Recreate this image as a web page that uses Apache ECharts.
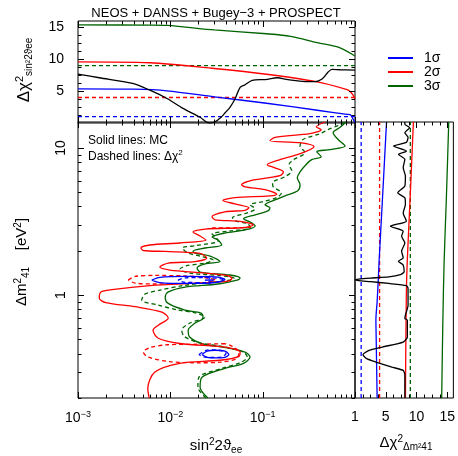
<!DOCTYPE html>
<html><head><meta charset="utf-8">
<script src="https://cdn.jsdelivr.net/npm/echarts@6/dist/echarts.min.js"></script>
<style>html,body{margin:0;padding:0;background:#fff}#c{width:458px;height:456px}</style>
</head><body><div id="c"></div><script>
// ---------- tick values ----------
const logMajorX = [0.001, 0.01, 0.1, 1];
const logMinorX = [0.002,0.003,0.004,0.005,0.006,0.007,0.008,0.009,0.02,0.03,0.04,0.05,0.06,0.07,0.08,0.09,0.2,0.3,0.4,0.5,0.6,0.7,0.8,0.9];
const logMajorY = [1, 10];
const logMinorY = [0.2,0.3,0.4,0.5,0.6,0.7,0.8,0.9,2,3,4,5,6,7,8,9];
const chiMajor = [5, 10, 15];
const chiMinor = [1.25,2.5,3.75,6.25,7.5,8.75,11.25,12.5,13.75];
const chiLevels = [1, 4, 9];

// ---------- top panel: Δχ² vs sin²2θ ----------
const topBlueMC  = [[0.001,5.35],[0.004,5.3],[0.0092,5.05],[0.03,4.1],[0.11,3.1],[0.39,2.0],[0.82,1.35],[0.885,1.3],[0.93,0.9],[0.97,0.4],[1,0.1]];
const topRedMC   = [[0.001,9.6],[0.006,9.45],[0.03,8.55],[0.11,7.65],[0.39,6.45],[0.82,5.25],[0.885,4.95],[0.95,4.4],[1,3.8]];
const topGreenMC = [[0.001,15.4],[0.006,15.35],[0.0092,15.3],[0.03,14.6],[0.11,14.0],[0.2,13.6],[0.39,12.6],[0.69,11.8],[1,10.5]];
const topChi2    = [[0.001,7.65],[0.0017,7.1],[0.0039,6.2],[0.006,5.15],[0.0092,3.85],[0.0137,2.3],[0.021,0.9],[0.0265,0.0],[0.0305,0.2],[0.036,1.0],[0.0392,1.6],[0.0444,2.5],[0.0503,3.8],[0.057,5.6],[0.0645,6.0],[0.077,6.7],[0.094,6.8],[0.106,6.8],[0.143,7.1],[0.188,6.8],[0.288,6.5],[0.37,6.5],[0.44,6.9],[0.512,8.0],[0.565,8.4],[0.69,8.35],[1,8.3]];

// ---------- right panel: Δχ² vs Δm² ----------
const rightBlueMC  = [[5.13,15],[4.46,4.44],[3.92,1.7],[3.81,1.33],[3.6,0.9],[3.4,0.68],[3.45,0.5],[3.6,0.2]];
const rightRedMC   = [[9.5,15],[8.95,4.4],[8.5,1.7],[8.35,1.0],[8.2,0.2]];
const rightGreenMC = [[15.25,15],[14.85,4.4],[14.5,1.7],[14.3,0.7],[14.1,0.2]];
const rightChi2 = [[8.11,0.2],[8.11,0.285],[7.84,0.308],[6.0,0.324],[3.4,0.351],[1.9,0.37],[1.3,0.394],[2.2,0.42],[4.44,0.444],[7.84,0.48],[8.52,0.52],[8.52,0.676],[8.11,0.694],[8.2,0.731],[8.63,0.855],[8.63,1.11],[8.36,1.16],[5.49,1.2],[2.5,1.235],[0.6,1.255],[0.05,1.27],[0.6,1.285],[2.5,1.305],[5.49,1.33],[7.4,1.38],[8.0,1.44],[7.84,1.6],[7.06,1.7],[7.84,1.79],[7.58,1.99],[8.11,2.26],[7.58,2.51],[7.84,2.72],[5.76,2.94],[8.36,3.18],[7.84,3.62],[8.2,4.13],[8.11,4.58],[6.95,4.96],[8.11,5.51],[8.2,6.44],[7.84,7.34],[8.11,8.36],[7.06,9.04],[8.36,9.5],[6.27,10.3],[8.36,10.9],[8.63,11.8],[8.11,12.7],[8.89,13.7],[8.11,14.5],[8.11,15]];

// ---------- main panel contours: [sin²2θ, Δm²] ----------
const redMC = [[0.0059,0.2],[0.0057,0.232],[0.0068,0.30],[0.0127,0.344],[0.0345,0.361],[0.0555,0.384],[0.057,0.41],[0.042,0.44],[0.0127,0.469],[0.0074,0.509],[0.0065,0.578],[0.0074,0.625],[0.0095,0.70],[0.0081,0.767],[0.00415,0.834],[0.0020,0.889],[0.0017,0.954],[0.00177,1.05],[0.00233,1.09],[0.0060,1.16],[0.021,1.21],[0.042,1.245],[0.0465,1.295],[0.042,1.357],[0.021,1.42],[0.0099,1.48],[0.0077,1.55],[0.0095,1.65],[0.0185,1.69],[0.0248,1.79],[0.021,1.92],[0.0088,1.98],[0.0051,2.01],[0.0048,2.09],[0.006,2.19],[0.0127,2.26],[0.0243,2.37],[0.021,2.52],[0.0176,2.68],[0.0238,2.81],[0.0645,2.88],[0.079,3.0],[0.057,3.17],[0.0305,3.25],[0.0283,3.41],[0.039,3.68],[0.0645,3.77],[0.071,3.92],[0.050,4.17],[0.037,4.40],[0.050,4.6],[0.12,4.73],[0.142,4.85],[0.106,5.2],[0.0645,5.44],[0.059,5.62],[0.073,5.98],[0.154,6.48],[0.168,6.87],[0.136,7.32],[0.112,7.69],[0.154,8.32],[0.254,9.14],[0.36,10.2],[0.254,10.85],[0.12,11.2],[0.136,11.8],[0.326,12.5],[0.43,13.3],[0.38,13.9],[0.474,15]];
const greenMC = [[0.0255,0.2],[0.021,0.237],[0.022,0.277],[0.039,0.318],[0.062,0.344],[0.073,0.38],[0.0645,0.41],[0.042,0.437],[0.022,0.469],[0.0163,0.517],[0.0156,0.578],[0.0185,0.646],[0.0226,0.697],[0.0215,0.755],[0.0144,0.791],[0.0094,0.882],[0.0088,0.969],[0.0094,1.048],[0.0144,1.134],[0.033,1.19],[0.054,1.27],[0.057,1.305],[0.044,1.37],[0.021,1.435],[0.0195,1.53],[0.0238,1.63],[0.0345,1.69],[0.027,1.84],[0.0185,1.93],[0.0176,1.99],[0.0238,2.09],[0.036,2.19],[0.033,2.37],[0.0283,2.48],[0.039,2.64],[0.0645,2.77],[0.083,2.95],[0.073,3.14],[0.062,3.3],[0.083,3.51],[0.114,3.74],[0.12,3.92],[0.106,4.11],[0.136,4.44],[0.175,4.73],[0.24,5.12],[0.254,5.62],[0.237,6.28],[0.254,6.87],[0.294,7.69],[0.34,8.32],[0.43,8.7],[0.386,9.43],[0.537,9.73],[0.78,10.3],[0.656,11.4],[0.58,12.7],[0.69,13.8],[0.80,15]];
const greenChi2 = [[0.0243,0.2],[0.0199,0.237],[0.0204,0.277],[0.0363,0.318],[0.0586,0.35],[0.068,0.38],[0.062,0.41],[0.040,0.443],[0.0199,0.477],[0.0141,0.525],[0.0133,0.578],[0.0163,0.646],[0.0238,0.708],[0.019,0.755],[0.0121,0.791],[0.0074,0.855],[0.0049,0.925],[0.0053,1.016],[0.0077,1.08],[0.0137,1.16],[0.0238,1.21],[0.0465,1.27],[0.049,1.305],[0.0345,1.357],[0.0163,1.41],[0.0127,1.5],[0.0148,1.58],[0.0238,1.65],[0.029,1.73],[0.021,1.84],[0.0156,1.93],[0.0135,2.09],[0.019,2.17],[0.033,2.33],[0.031,2.48],[0.0283,2.6],[0.0444,2.73],[0.073,2.86],[0.0695,3.05],[0.0503,3.19],[0.047,3.35],[0.0695,3.63],[0.0827,3.86],[0.073,4.11],[0.0985,4.3],[0.142,4.6],[0.16,4.95],[0.13,5.44],[0.128,5.8],[0.175,6.38],[0.207,6.99],[0.193,7.69],[0.215,8.32],[0.288,9.3],[0.254,10.3],[0.273,11.4],[0.419,12.5],[0.51,13.3],[0.69,14.4],[0.78,15]];
const redChi2Upper = [[0.0035,1.265],[0.00415,1.34],[0.0068,1.36],[0.0144,1.35],[0.0238,1.315],[0.0305,1.265],[0.0238,1.217],[0.0144,1.2],[0.0068,1.19],[0.00415,1.207],[0.0035,1.265]];
const redChi2Lower = [[0.0392,0.468],[0.021,0.464],[0.0094,0.46],[0.006,0.44],[0.0051,0.41],[0.0057,0.38],[0.0099,0.353],[0.021,0.347],[0.0345,0.35],[0.052,0.37],[0.0555,0.41],[0.0465,0.45],[0.0392,0.468]];
const redChi2Seg = [[0.0283,2.86],[0.05,2.86],[0.075,2.9]];
const blueMCUpper = [[0.0063,1.265],[0.0077,1.32],[0.015,1.34],[0.0305,1.33],[0.039,1.275],[0.0305,1.217],[0.015,1.2],[0.0077,1.217],[0.0063,1.265]];
const blueChi2Upper = [[0.0121,1.265],[0.0144,1.31],[0.0238,1.315],[0.0345,1.295],[0.0373,1.265],[0.0345,1.236],[0.0238,1.217],[0.0144,1.22],[0.0121,1.265]];
const blueMCLower = [[0.022,0.395],[0.025,0.416],[0.0305,0.422],[0.039,0.416],[0.043,0.395],[0.039,0.378],[0.0305,0.375],[0.025,0.378],[0.022,0.395]];
const blueChi2Lower = [[0.0204,0.395],[0.024,0.42],[0.029,0.425],[0.036,0.418],[0.040,0.40],[0.036,0.38],[0.029,0.377],[0.023,0.38],[0.0204,0.395]];
const bestFit = [[0.0265,1.265]];

const BLUE='#0000ff', RED='#ff0000', GREEN='#006400', BLACK='#000000';
const FONT='"Liberation Sans", Arial, Helvetica, sans-serif';

function ln(name, data, color, xi, yi, dashed, smooth){
  return {type:'line', name, data, xAxisIndex:xi, yAxisIndex:yi, showSymbol:false, symbol:'none',
    smooth: smooth===undefined?0.3:smooth, color, silent:true, clip:true,
    lineStyle:{color, width:1.3, type: dashed?[4,3]:'solid'}};
}
function hline(name, y, color, xi, yi){
  return ln(name, [[0.001,y],[1,y]], color, xi, yi, true, false);
}
function vline(name, x, color, xi, yi){
  return ln(name, [[x,0.2],[x,15]], color, xi, yi, true, false);
}
function ticks(xi, yi, xMaj, xMin, yMaj, yMin, refX, refY, sides){
  const data=[];
  xMaj.forEach(v=>data.push([v,refY,1,0])); xMin.forEach(v=>data.push([v,refY,0,0]));
  yMaj.forEach(v=>data.push([refX,v,1,1])); yMin.forEach(v=>data.push([refX,v,0,1]));
  return {type:'custom', xAxisIndex:xi, yAxisIndex:yi, silent:true, z:10, data,
    dimensions:['x','y','m','d'], encode:{x:0,y:1},
    renderItem(params, api){
      const cs=params.coordSys; const major=api.value(2), d=api.value(3);
      const len=major?6:3.5; const p=api.coord([api.value(0),api.value(1)]);
      const ch=[]; const st={stroke:'#000',lineWidth:1};
      if(d===0){ const x=Math.round(p[0])+0.5;
        if(sides.b) ch.push({type:'line',shape:{x1:x,y1:cs.y+cs.height,x2:x,y2:cs.y+cs.height-len},style:st});
        if(sides.t) ch.push({type:'line',shape:{x1:x,y1:cs.y,x2:x,y2:cs.y+len},style:st});
      } else { const y=Math.round(p[1])+0.5;
        if(sides.l) ch.push({type:'line',shape:{x1:cs.x,y1:y,x2:cs.x+len,y2:y},style:st});
        if(sides.r) ch.push({type:'line',shape:{x1:cs.x+cs.width,y1:y,x2:cs.x+cs.width-len,y2:y},style:st});
      }
      return {type:'group',children:ch};
    }};
}
const hid={show:false};
const supFmt = {s:{fontSize:9, verticalAlign:'top', fontFamily:FONT, padding:[0,0,7,0]}};
function xLab(v){ if(Math.abs(v-1)<1e-9) return '1'; const e=Math.round(Math.log10(v)); if(Math.abs(Math.pow(10,e)-v)/v<1e-6) return '10{s|−'+(-e)+'}'; return ''; }
const richSS = {s:{fontSize:10, verticalAlign:'top', padding:[0,0,8,0], fontFamily:FONT}, b:{fontSize:10, verticalAlign:'bottom', padding:[7,0,0,0], fontFamily:FONT}};

const option = {
  animation:false, backgroundColor:'#fff',
  textStyle:{fontFamily:FONT},
  grid:[
    {left:78, top:21, width:277, height:102, show:true, borderColor:'#000', borderWidth:1},
    {left:78, top:122, width:277, height:276, show:true, borderColor:'#000', borderWidth:1},
    {left:355, top:122, width:102, height:276, show:true, borderColor:'#000', borderWidth:1}
  ],
  xAxis:[
    {type:'log', logBase:10, min:0.001, max:1, gridIndex:0, axisLine:hid, axisTick:hid, axisLabel:hid, splitLine:hid},
    {type:'log', logBase:10, min:0.001, max:1, gridIndex:1, axisLine:hid, axisTick:hid, splitLine:hid,
      axisLabel:{show:true, margin:12, fontSize:14, color:'#000', fontFamily:FONT, formatter:xLab, rich:supFmt, showMinLabel:true, showMaxLabel:true}},
    {type:'value', min:0, max:16, interval:5, gridIndex:2, axisLine:hid, axisTick:hid, splitLine:hid,
      axisLabel:{show:true, margin:12, fontSize:14, color:'#000', fontFamily:FONT, formatter:v=>(v===5||v===10||v===15)?String(v):''}}
  ],
  yAxis:[
    {type:'value', min:0, max:16, interval:5, gridIndex:0, axisLine:hid, axisTick:hid, splitLine:hid,
      axisLabel:{show:true, margin:14, fontSize:14, color:'#000', fontFamily:FONT, formatter:v=>(v===5||v===10||v===15)?String(v):''}},
    {type:'log', logBase:10, min:0.2, max:15, gridIndex:1, axisLine:hid, axisTick:hid, splitLine:hid,
      axisLabel:{show:true, rotate:90, margin:10, fontSize:14, color:'#000', fontFamily:FONT,
        formatter:v=>Math.abs(v-1)<1e-9?'1':(Math.abs(v-10)<1e-9?'10':'')}},
    {type:'log', logBase:10, min:0.2, max:15, gridIndex:2, axisLine:hid, axisTick:hid, axisLabel:hid, splitLine:hid}
  ],
  legend:{orient:'vertical', left:383, top:46, itemWidth:25, itemHeight:2, itemGap:0, icon:'rect',
    data:['1σ','2σ','3σ'], textStyle:{fontSize:14, color:'#000', fontFamily:FONT, padding:[0,0,0,6]}},
  series:[
    // top panel
    hline('1σ',chiLevels[0],BLUE,0,0), hline('2σ',chiLevels[1],RED,0,0), hline('3σ',chiLevels[2],GREEN,0,0),
    ln('3σ',topGreenMC,GREEN,0,0,false), ln('2σ',topRedMC,RED,0,0,false), ln('1σ',topBlueMC,BLUE,0,0,false),
    ln('Δχ²',topChi2,BLACK,0,0,false),
    // right panel
    vline('1σ',chiLevels[0],BLUE,2,2), vline('2σ',chiLevels[1],RED,2,2), vline('3σ',chiLevels[2],GREEN,2,2),
    ln('3σ',rightGreenMC,GREEN,2,2,false), ln('2σ',rightRedMC,RED,2,2,false), ln('1σ',rightBlueMC,BLUE,2,2,false),
    ln('Δχ² profile',rightChi2,BLACK,2,2,false,0.2),
    // main panel
    ln('3σ',greenChi2,GREEN,1,1,true), ln('3σ',greenMC,GREEN,1,1,false),
    ln('2σ',redChi2Upper,RED,1,1,true), ln('2σ',redChi2Lower,RED,1,1,true), ln('2σ',redChi2Seg,RED,1,1,true),
    ln('2σ',redMC,RED,1,1,false),
    ln('1σ',blueChi2Upper,BLUE,1,1,true), ln('1σ',blueMCUpper,BLUE,1,1,false),
    ln('1σ',blueChi2Lower,BLUE,1,1,true), ln('1σ',blueMCLower,BLUE,1,1,false),
    {type:'scatter', name:'best fit', data:bestFit, xAxisIndex:1, yAxisIndex:1, symbol:'path://M4,0h2v10h-2zM0,4h10v2h-10z', symbolSize:9, itemStyle:{color:BLUE}, silent:true, z:5},
    // ticks
    ticks(0,0,logMajorX,logMinorX,chiMajor,chiMinor,0.01,5,{b:true,t:true,l:true,r:true}),
    ticks(1,1,logMajorX,logMinorX,logMajorY,logMinorY,0.01,1,{b:true,t:true,l:true,r:true}),
    ticks(2,2,chiMajor,chiMinor,[],[],5,1,{b:true,t:true})
  ],
  graphic:[
    {type:'text', x:216, y:13, style:{text:'NEOS + DANSS + Bugey−3 + PROSPECT', font:'13px '+FONT, fill:'#000', textAlign:'center', textVerticalAlign:'middle'}},
    {type:'text', x:88, y:141, style:{text:'Solid lines: MC', font:'12px '+FONT, fill:'#000', textVerticalAlign:'middle'}},
    {type:'text', x:88, y:157, style:{text:'Dashed lines: Δχ{s|2}', font:'12px '+FONT, fill:'#000', textVerticalAlign:'middle',
      rich:{s:{fontSize:8, verticalAlign:'top', padding:[0,0,8,0], fontFamily:FONT}}}},
    {type:'text', x:216, y:446, style:{text:'sin{s|2}2ϑ{b|ee}', font:'15px '+FONT, fill:'#000', textAlign:'center', textVerticalAlign:'middle', rich:richSS}},
    {type:'text', x:22, y:262, rotation:Math.PI/2, style:{text:'Δm{s|2}{b|41}    [eV{s|2}]', font:'15px '+FONT, fill:'#000', textAlign:'center', textVerticalAlign:'middle', rich:richSS}},
    {type:'text', x:24, y:70, rotation:Math.PI/2, style:{text:'Δχ{s|2}{b|sin²2ϑee}', font:'17px '+FONT, fill:'#000', textAlign:'center', textVerticalAlign:'middle',
      rich:{s:{fontSize:11, verticalAlign:'top', padding:[0,0,9,0], fontFamily:FONT}, b:{fontSize:10, verticalAlign:'bottom', padding:[8,0,0,0], fontFamily:FONT}}}},
    {type:'text', x:406, y:443, style:{text:'Δχ{s|2}{b|Δm²41}', font:'15px '+FONT, fill:'#000', textAlign:'center', textVerticalAlign:'middle', rich:richSS}}
  ]
};
const chart = echarts.init(document.getElementById('c'), null, {renderer:'canvas'});
chart.setOption(option);
</script></body></html>
